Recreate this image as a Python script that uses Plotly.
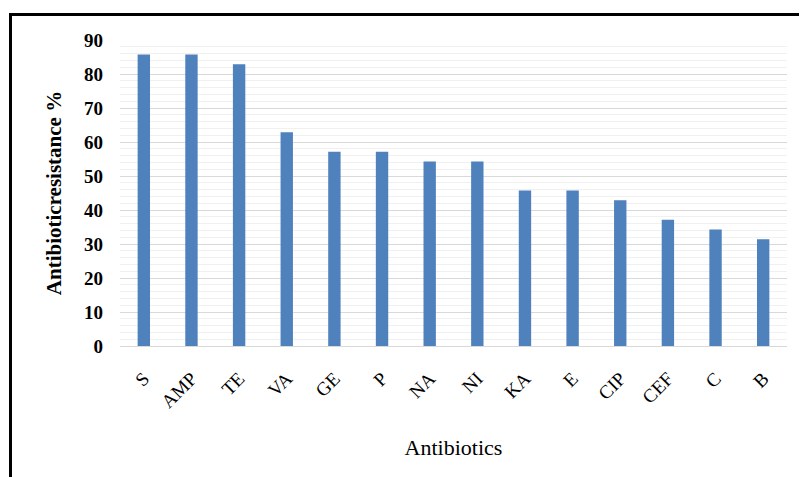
import plotly.graph_objects as go

antibiotics = ["S", "AMP", "TE", "VA", "GE", "P", "NA", "NI", "KA", "E", "CIP", "CEF", "C", "B"]
resistance = [85.7, 85.7, 82.9, 62.9, 57.1, 57.1, 54.3, 54.3, 45.7, 45.7, 42.9, 37.1, 34.3, 31.4]
y_ticks = [0, 10, 20, 30, 40, 50, 60, 70, 80, 90]

# page body has an 8px default margin, so the figure is 8px smaller
OFF = 8
W, H = 807 - OFF, 477 - OFF
L, R, T, B = 120 - OFF, 20, 40 - OFF, 131
pw, ph = W - L - R, H - T - B

fig = go.Figure(go.Bar(
    x=antibiotics, y=resistance,
    marker=dict(color="#4f81bd", line=dict(width=0)),
    width=0.26,
))

def px_x(p):  # image pixel -> paper
    return (p - OFF - L) / pw

def px_y(p):
    return 1 - (p - OFF - T) / ph

fig.update_layout(
    width=W, height=H,
    margin=dict(l=L, r=R, t=T, b=B),
    paper_bgcolor="white", plot_bgcolor="white",
    showlegend=False,
    font=dict(family="Liberation Serif", color="#000000"),
    xaxis=dict(
        tickangle=-45,
        tickfont=dict(family="Liberation Serif", size=19, color="#000000"),
        showgrid=False, showline=True, linecolor="#d9d9d9", linewidth=1,
        ticks="outside", ticklen=13, tickcolor="rgba(0,0,0,0)",
        title=dict(text="Antibiotics", font=dict(family="Liberation Serif", size=22, color="#000000"), standoff=28),
    ),
    yaxis=dict(
        range=[0, 90],
        tickvals=y_ticks,
        tickfont=dict(family="Liberation Serif", size=19, color="#000000", weight="bold"),
        showgrid=True, gridcolor="#d9d9d9", gridwidth=1,
        minor=dict(dtick=2, showgrid=True, gridcolor="#f0f0f0", gridwidth=1),
        zeroline=False, showline=False,
        ticklabelstandoff=16,
        title=dict(text="Antibioticresistance %", font=dict(family="Liberation Serif", size=21, color="#000000", weight="bold"), standoff=16),
    ),
    shapes=[
        dict(type="line", xref="paper", yref="paper", x0=px_x(10.5), x1=px_x(10.5), y0=px_y(14.5), y1=px_y(480), line=dict(color="black", width=3)),
        dict(type="line", xref="paper", yref="paper", x0=px_x(9), x1=px_x(810), y0=px_y(14.5), y1=px_y(14.5), line=dict(color="black", width=3)),
    ],
)

fig.write_html("out.html")
